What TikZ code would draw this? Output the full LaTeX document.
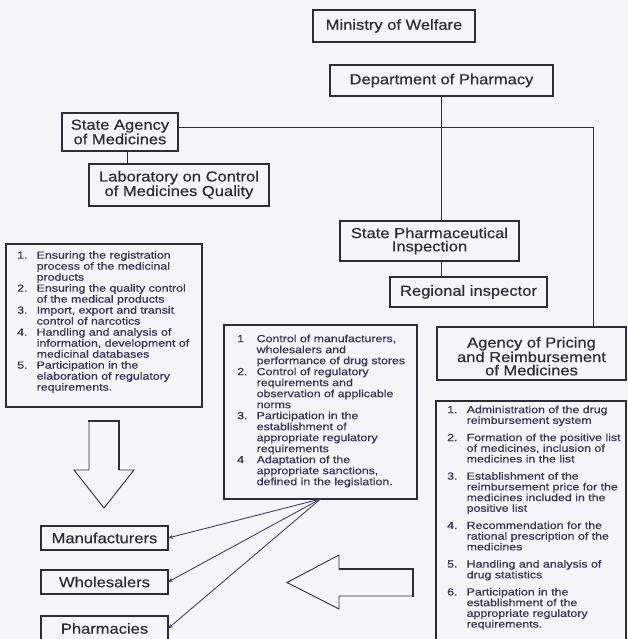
\documentclass[tikz,border=0pt]{standalone}
\usepackage{fontspec}
\setmainfont{Liberation Sans}
\newfontfamily\labelfont{Liberation Sans}[FakeStretch=1.14,FakeBold=0.5]
\newfontfamily\listfont{Liberation Sans}[FakeStretch=1.2,FakeBold=0.7]
\usetikzlibrary{arrows.meta}

\definecolor{paper}{RGB}{245,245,250}
\definecolor{ink}{RGB}{45,45,55}
\definecolor{listink}{RGB}{60,50,95}
\definecolor{fanink}{RGB}{70,60,120}

% hanging numbers for the task lists
\newcommand\numitem[1]{\makebox[19.5pt][l]{#1}}
\newcommand\contline{\hspace*{19.5pt}}

\tikzset{
  unitbox/.style={draw=ink, line width=1.2pt, inner sep=0pt, outer sep=0pt,
    align=center, text=ink, font=\labelfont\fontsize{14.5}{13.3}\selectfont},
  listbox/.style={draw=ink, line width=1.2pt, inner sep=0pt, outer sep=0pt},
  listtext/.style={inner sep=0pt, anchor=north west, align=left, text=listink,
    font=\listfont\fontsize{10.3}{11}\selectfont},
  link/.style={draw=ink, line width=1pt},
  fan/.style={draw=fanink, line width=0.9pt, -{Stealth[length=5pt,width=4pt]}},
  bigarrow/.style={draw=ink, line width=0.9pt, line join=miter},
  shadeedge/.style={draw=ink, line width=2.6pt, line cap=rect}
}

\begin{document}
\begin{tikzpicture}[x=1pt,y=-1pt]
\path[use as bounding box, fill=paper] (0,0) rectangle (628,639);
\clip (0,0) rectangle (628,639);

% organisational units
\node[unitbox, minimum width=162pt, minimum height=32pt] (min) at (394,26) {Ministry of Welfare};
\node[unitbox, minimum width=223pt, minimum height=31pt] (dept) at (441.5,80.5) {Department of Pharmacy};
\node[unitbox, minimum width=116pt, minimum height=38pt] (sam) at (120,132) {State Agency\\of Medicines};
\node[unitbox, minimum width=180pt, minimum height=42pt] (lab) at (179,185) {Laboratory on Control\\of Medicines Quality};
\node[unitbox, minimum width=179pt, minimum height=40pt] (spi) at (429.5,241) {State Pharmaceutical\\Inspection};
\node[unitbox, minimum width=157pt, minimum height=30pt] (reg) at (468.5,292) {Regional inspector};
\node[unitbox, minimum width=189pt, minimum height=53pt] (apr) at (531.5,353.5) {\rule{0pt}{16pt}Agency of Pricing\\and Reimbursement\\of Medicines};

\node[unitbox, minimum width=127pt, minimum height=24pt] (man) at (104.5,538) {Manufacturers};
\node[unitbox, minimum width=127pt, minimum height=24pt] (who) at (104.5,582) {Wholesalers};
\node[unitbox, minimum width=127pt, minimum height=25pt] (pha) at (104.5,628.5) {Pharmacies};

% hierarchy lines
\coordinate (rcorner) at (593,128);
\coordinate (labjoin) at (127,0);
\draw[link] (dept.south) -- (dept.south |- spi.north);
\draw[link] (spi.south -| dept.south) -- (reg.north -| dept.south);
\draw[link] ([yshift=4pt]sam.east) -- (rcorner) -- (rcorner |- apr.north);
\draw[link] (sam.south -| labjoin) -- (lab.north -| labjoin);

% task lists
\node[listbox, minimum width=196pt, minimum height=163pt] (leftlist) at (104,325.5) {};
\node[listtext] (lefttasks) at (17,251) {%
\numitem{1.}Ensuring the registration\\
\contline process of the medicinal\\
\contline products\\
\numitem{2.}Ensuring the quality control\\
\contline of the medical products\\
\numitem{3.}Import, export and transit\\
\contline control of narcotics\\
\numitem{4.}Handling and analysis of\\
\contline information, development of\\
\contline medicinal databases\\
\numitem{5.}Participation in the\\
\contline elaboration of regulatory\\
\contline requirements.};

\node[listbox, minimum width=193pt, minimum height=174pt] (midlist) at (320.5,412) {};
\node[listtext] (midtasks) at (237,334.5) {%
\numitem{1}Control of manufacturers,\\
\contline wholesalers and\\
\contline performance of drug stores\\
\numitem{2.}Control of regulatory\\
\contline requirements and\\
\contline observation of applicable\\
\contline norms\\
\numitem{3.}Participation in the\\
\contline establishment of\\
\contline appropriate regulatory\\
\contline requirements\\
\numitem{4}Adaptation of the\\
\contline appropriate sanctions,\\
\contline defined in the legislation.};

\node[listbox, minimum width=190pt, minimum height=244pt] (rightlist) at (531,523) {};
\node[listtext, font=\listfont\fontsize{10.3}{10.7}\selectfont] (righttasks) at (447,405.5) {%
\numitem{1.}Administration of the drug\\
\contline reimbursement system\\[6.5pt]
\numitem{2.}Formation of the positive list\\
\contline of medicines, inclusion of\\
\contline medicines in the list\\[6.5pt]
\numitem{3.}Establishment of the\\
\contline reimbursement price for the\\
\contline medicines included in the\\
\contline positive list\\[6.5pt]
\numitem{4.}Recommendation for the\\
\contline rational prescription of the\\
\contline medicines\\[6.5pt]
\numitem{5.}Handling and analysis of\\
\contline drug statistics\\[6.5pt]
\numitem{6.}Participation in the\\
\contline establishment of the\\
\contline appropriate regulatory\\
\contline requirements.};

% control links from the inspection tasks
\draw[fan] (midlist.south) -- (man.east);
\draw[fan] (midlist.south) -- (who.east);
\draw[fan] (midlist.south) -- (pha.east);

% hollow block arrow pointing down
\draw[bigarrow] (89,421) -- (119,421) -- (119,470) -- (134,470) -- (104,508)
  -- (74,470) -- (89,470) -- cycle;
\draw[shadeedge] (89,421) -- (119,421) -- (119,469);

% hollow block arrow pointing left
\draw[bigarrow] (413,569) -- (339,569) -- (339,555) -- (287,582.5) -- (339,609)
  -- (339,596) -- (413,596) -- cycle;
\draw[shadeedge] (340,569) -- (413,569) -- (413,596);
\end{tikzpicture}
\end{document}
